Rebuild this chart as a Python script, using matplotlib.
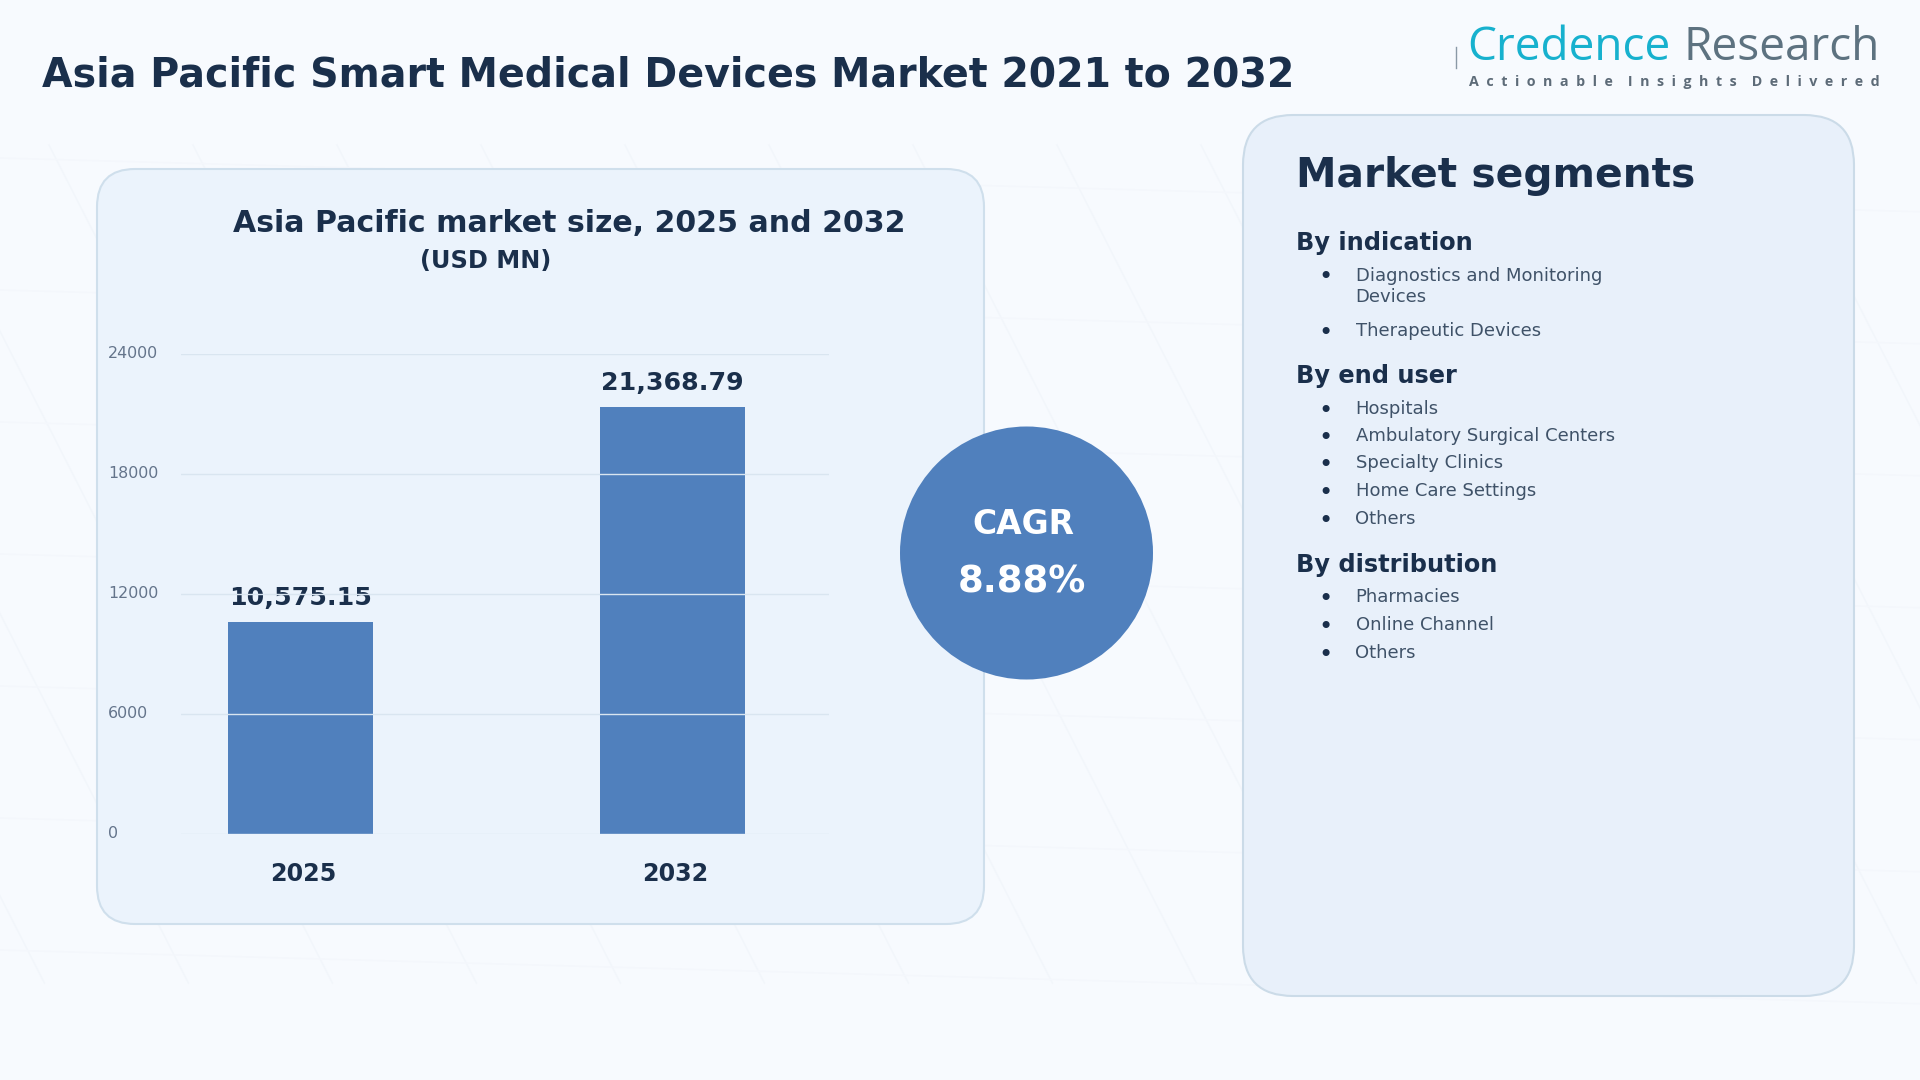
"""Asia Pacific smart medical devices market slide."""

import matplotlib

matplotlib.use("Agg")
import matplotlib.pyplot as plt
from matplotlib.patches import Circle, FancyBboxPatch
from matplotlib.transforms import ScaledTranslation

years = ["2025", "2032"]
market_size = [10575.15, 21368.79]
size_labels = ["10,575.15", "21,368.79"]
y_ticks = [0, 6000, 12000, 18000, 24000]

segment_groups = ["By indication", "By end user", "By distribution"]
indication_items = ["Diagnostics and Monitoring\nDevices", "Therapeutic Devices"]
end_user_items = [
    "Hospitals",
    "Ambulatory Surgical Centers",
    "Specialty Clinics",
    "Home Care Settings",
    "Others",
]
distribution_items = ["Pharmacies", "Online Channel", "Others"]

INK = "#1A2F4B"
BODY = "#3F5268"
BAR = "#5080BD"
GRID = "#D9E5F0"
W, H = 1920, 1080


def px(size):
    # font size in points from pixels at dpi 100
    return size * 0.72


fig = plt.figure(figsize=(W / 100, H / 100), dpi=100, facecolor="#F7FAFE")

# full-slide layer in pixel coordinates
bg = fig.add_axes([0, 0, 1, 1], zorder=0)
bg.axis("off")

# faint background lattice
for k in range(-4, 13):
    x0 = 49 + 144 * k
    bg.plot([x0, x0 + 0.51 * 838], [145, 983], color="#F2F6FB", lw=1.1, zorder=1)
for k in range(7):
    y0 = 158 + 132 * k
    bg.plot([0, W], [y0, y0 + 0.028 * W], color="#F4F7FC", lw=1.1, zorder=1)
bg.set_xlim(0, W)
bg.set_ylim(H, 0)

bg.text(42, 75.5, "Asia Pacific Smart Medical Devices Market 2021 to 2032",
        fontsize=px(39.5), fontweight="bold", color=INK, va="center")

# logo
bg.plot([1455.5, 1455.5], [47, 68], color="#8A99A6", lw=1, zorder=2)
bg.text(1467, 60, "Credence", family="Open Sans", fontsize=px(46), color="#17B1CE", va="baseline")
bg.text(1683, 60, "Research", family="Open Sans", fontsize=px(46), color="#5D7280", va="baseline")
bg.text(1469, 86, "    ".join("  ".join(word) for word in ["Actionable", "Insights", "Delivered"]),
        family="Open Sans", fontweight="bold", fontsize=px(14.2), color="#5D6B78", va="baseline")

# panels
bg.add_patch(FancyBboxPatch((97, 169), 887, 755, boxstyle="round,pad=0,rounding_size=38",
                            fc="#EBF3FC", ec="#CFDFEC", lw=1.5, zorder=3))
bg.add_patch(FancyBboxPatch((1243, 115), 611, 881, boxstyle="round,pad=0,rounding_size=50",
                            fc="#E8F0FA", ec="#CBDBE8", lw=1.5, zorder=3))

bg.text(569.5, 223, "Asia Pacific market size, 2025 and 2032", fontsize=px(29.95),
        fontweight="bold", color=INK, ha="center", va="center", zorder=4)
bg.text(485.5, 261, "(USD MN)", fontsize=px(24), fontweight="bold", color=INK,
        ha="center", va="center", zorder=4)

# CAGR badge
bg.add_patch(Circle((1026.5, 553), 126.5, fc=BAR, ec="none", zorder=6))
bg.text(1023, 525, "CAGR", fontsize=px(33), fontweight="bold", color="white",
        ha="center", va="center", zorder=7)
bg.text(1022, 582, "8.88%", fontsize=px(37), fontweight="bold", color="white",
        ha="center", va="center", zorder=7)

# bar chart, placed so that the gridlines span 181-829 px and 0-24000 span 834-354 px
ax = fig.add_axes([181 / W, 1 - 834 / H, 648 / W, 480 / H], zorder=5)
ax.patch.set_alpha(0)
positions = list(range(len(years)))
ax.bar(positions, market_size, width=0.39, color=BAR, zorder=2)
for pos, value, label in zip(positions, market_size, size_labels):
    ax.annotate(label, (pos, value), xytext=(0, px(12)), textcoords="offset points",
                fontsize=px(25.2), fontweight="bold", color=INK, ha="center", va="bottom", zorder=3)
ax.set_xlim(-0.321, 1.421)
ax.set_ylim(0, 24000)
ax.set_yticks(y_ticks)
ax.set_yticklabels([str(t) for t in y_ticks])
ax.set_xticks(positions)
ax.set_xticklabels(years)
ax.grid(axis="y", color=GRID, lw=1)
ax.xaxis.grid(False)
# gridlines run over the bars and the value labels
ax.yaxis.set_zorder(5)
for spine in ax.spines.values():
    spine.set_visible(False)
ax.tick_params(axis="y", length=0, pad=px(73), labelsize=px(15.9), labelcolor="#64748B")
ax.tick_params(axis="x", length=0, pad=px(28), labelsize=px(23.7), labelcolor=INK)
for tick in ax.get_yticklabels():
    tick.set_ha("left")
    tick.set_transform(tick.get_transform() + ScaledTranslation(0, px(2.5) / 72, fig.dpi_scale_trans))
for tick in ax.get_xticklabels():
    tick.set_fontweight("bold")
    tick.set_transform(tick.get_transform() + ScaledTranslation(px(2.5) / 72, 0, fig.dpi_scale_trans))

# segment list
bg.text(1296, 176.5, "Market segments", fontsize=px(40.75), fontweight="bold", color=INK,
        va="center", zorder=4)


def draw_group(heading, heading_y, items, item_ys):
    bg.text(1296, heading_y, heading, fontsize=px(24), fontweight="bold", color=INK,
            va="center", zorder=4)
    for item, y in zip(items, item_ys):
        bg.text(1325, y + 2.5, "\u2022", fontsize=px(24), color=INK, ha="center", va="center", zorder=4)
        bg.text(1355.5, y + 0.5 if "\n" not in item else y + 11.5, item, fontsize=px(18), color=BODY,
                va="center", linespacing=1.15, zorder=4)


draw_group(segment_groups[0], 243, indication_items, [275, 330])
draw_group(segment_groups[1], 376.5, end_user_items, [408, 435.5, 463, 491, 518.5])
draw_group(segment_groups[2], 565, distribution_items, [597, 624.5, 652])

fig.savefig("out.png", dpi=100, facecolor=fig.get_facecolor())
plt.close(fig)
